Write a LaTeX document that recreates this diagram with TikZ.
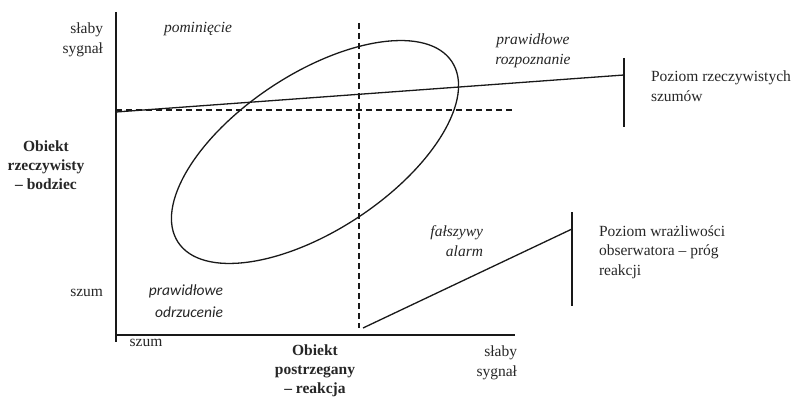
\documentclass[tikz,border=0pt]{standalone}
\usepackage{fontspec}
\setmainfont{Liberation Serif}
\newfontfamily\calib{Carlito}
\begin{document}
\begin{tikzpicture}[x=1pt,y=-1pt,
  every node/.style={inner sep=0pt,outer sep=0pt,text=black!85,font=\fontsize{15.5}{19.5}\selectfont},
  ln/.style={line width=1.3pt,black!90},
  dsh/.style={line width=1.2pt,black!90,dash pattern=on 6pt off 4pt},
  lab/.style={font=\fontsize{15.5}{19.5}\selectfont\itshape},
  labs/.style={font=\fontsize{15.5}{22}\selectfont\calib\itshape},
  bold/.style={font=\fontsize{15.5}{19}\selectfont\bfseries,align=center}]
\useasboundingbox (0,0) rectangle (791,398);
% axes
\coordinate (ytop) at (116,12);
\coordinate (orig) at (116,335);
\coordinate (ybot) at (116,342);
\coordinate (xend) at (515,335);
\draw[ln] (ytop) -- (ybot);
\draw[ln] (orig) -- (xend);
% dashed lines
\coordinate (dh1) at (116,110);
\coordinate (dh2) at (515,110);
\coordinate (dv1) at (359,23);
\coordinate (dv2) at (359,328);
\draw[dsh] (dh1) -- (dh2);
\draw[dsh] (dv1) -- (dv2);
% noise level line
\coordinate (n1) at (116,112);
\coordinate (n2) at (624,75);
\coordinate (b1t) at (624,58);
\coordinate (b1b) at (624,127);
\draw[ln] (n1) -- (n2);
\draw[ln] (b1t) -- (b1b);
% threshold line
\coordinate (t1) at (363,328);
\coordinate (t2) at (572,229);
\coordinate (b2t) at (572,212);
\coordinate (b2b) at (572,306);
\draw[ln] (t1) -- (t2);
\draw[ln] (b2t) -- (b2b);
% ellipse
\draw[ln,shift={(315,152)},rotate=33.4] (0,0) ellipse [x radius=164, y radius=78.3];
% labels
\node[align=right,anchor=east] (ys) at (103,40) {słaby\\sygnał};
\node[anchor=east] (yn) at (103,293) {szum};
\node (xn) at (146,343) {szum};
\node[align=right,anchor=east] (xs) at (517,363) {słaby\\sygnał};
\node[bold] (ylab) at (46,165) {Obiekt\\rzeczywisty\\– bodziec};
\node[bold] (xlab) at (315,371) {Obiekt\\postrzegany\\– reakcja};
\node[lab] (pom) at (198,29) {pominięcie};
\node[lab,align=center] (roz) at (533,51) {prawidłowe\\rozpoznanie};
\node[lab,align=right,anchor=east] (fal) at (483,241) {fałszywy\\alarm};
\node[labs,align=right,anchor=east] (odr) at (223,301) {prawidłowe\\odrzucenie};
\node[align=left,anchor=west] (pz1) at (651,86) {Poziom rzeczywistych\\szumów};
\node[align=left,anchor=west] (pz2) at (599,252) {Poziom wrażliwości\\obserwatora – próg\\reakcji};
\end{tikzpicture}
\end{document}
